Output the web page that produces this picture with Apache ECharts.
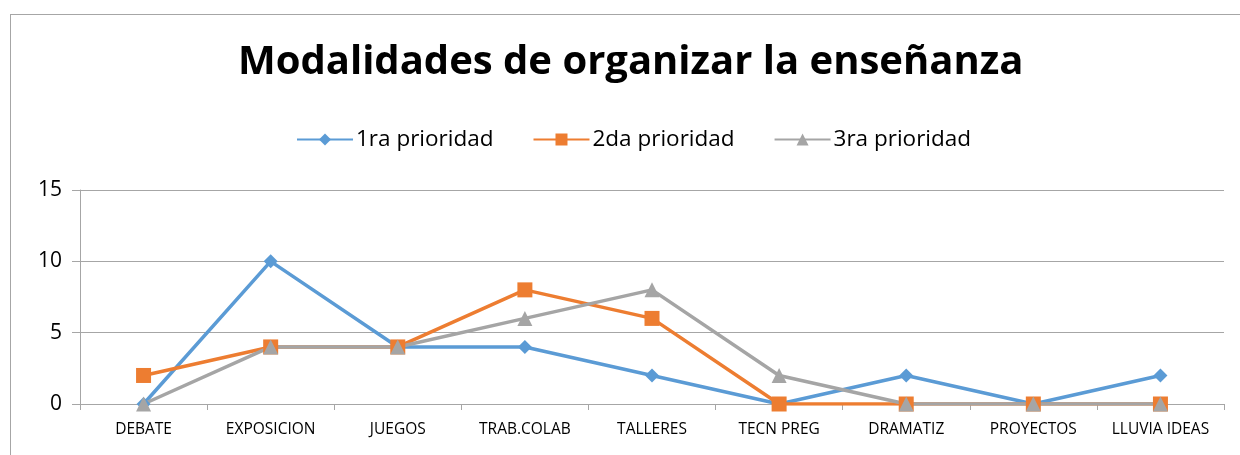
<!DOCTYPE html>
<html>
<head>
<meta charset="utf-8">
<script src="https://cdn.jsdelivr.net/npm/echarts@6/dist/echarts.min.js"></script>
<style>
  html, body { margin: 0; padding: 0; background: #fff; }
  #frame { position: absolute; left: 10px; top: 14px; width: 1240px; height: 460px; border: 1px solid #a6a6a6; }
  #chart { width: 1240px; height: 455px; position: absolute; left: 0; top: 0; }
</style>
</head>
<body>
<div id="frame"></div>
<div id="chart"></div>
<script>
const categories = ['DEBATE', 'EXPOSICION', 'JUEGOS', 'TRAB.COLAB', 'TALLERES', 'TECN PREG', 'DRAMATIZ', 'PROYECTOS', 'LLUVIA IDEAS']
const prioridad1 = [0, 10, 4, 4, 2, 0, 2, 0, 2]
const prioridad2 = [2, 4, 4, 8, 6, 0, 0, 0, 0]
const prioridad3 = [0, 4, 4, 6, 8, 2, 0, 0, 0]
const seriesNames = ['1ra prioridad', '2da prioridad', '3ra prioridad']

const font = 'Open Sans'
let myChart = echarts.init(document.getElementById('chart'))

function lineSeries (name, data, color, symbol, size) {
  return {
    name: name,
    type: 'line',
    data: data,
    symbol: symbol,
    symbolSize: size,
    showAllSymbol: true,
    itemStyle: { color: color },
    lineStyle: { color: color, width: 3.5 }
  }
}

let options = {
  animation: false,
  title: {
    text: 'Modalidades de organizar la enseñanza',
    left: 233,
    top: 38,
    textStyle: { fontFamily: font, fontSize: 40, fontWeight: 'bold', color: '#000' }
  },
  legend: {
    top: 123,
    left: 291,
    itemGap: 39,
    itemWidth: 56,
    itemHeight: 15,
    textStyle: { fontFamily: font, fontSize: 22.5, color: '#000', padding: [0, 0, 0, -2] },
    data: seriesNames
  },
  grid: { left: 80, right: 16, top: 190, bottom: 51 },
  xAxis: {
    type: 'category',
    data: categories,
    boundaryGap: true,
    axisLine: { lineStyle: { color: '#a6a6a6', width: 1 } },
    axisTick: { show: true, length: 6, lineStyle: { color: '#a6a6a6' } },
    axisLabel: { fontFamily: font, fontSize: 15.5, color: '#000', margin: 18, interval: 0 }
  },
  yAxis: {
    type: 'value',
    min: 0,
    max: 15,
    interval: 5,
    axisLine: { show: true, lineStyle: { color: '#a6a6a6', width: 1 } },
    axisTick: { show: true, length: 8, lineStyle: { color: '#a6a6a6' } },
    splitLine: { lineStyle: { color: '#a6a6a6', width: 1 } },
    axisLabel: { fontFamily: font, fontSize: 21, color: '#000', margin: 18 }
  },
  series: [
    lineSeries(seriesNames[0], prioridad1, '#5b9bd5', 'diamond', 14),
    lineSeries(seriesNames[1], prioridad2, '#ed7d31', 'rect', 15),
    lineSeries(seriesNames[2], prioridad3, '#a5a5a5', 'triangle', 15)
  ]
}
myChart.setOption(options)
</script>
</body>
</html>
